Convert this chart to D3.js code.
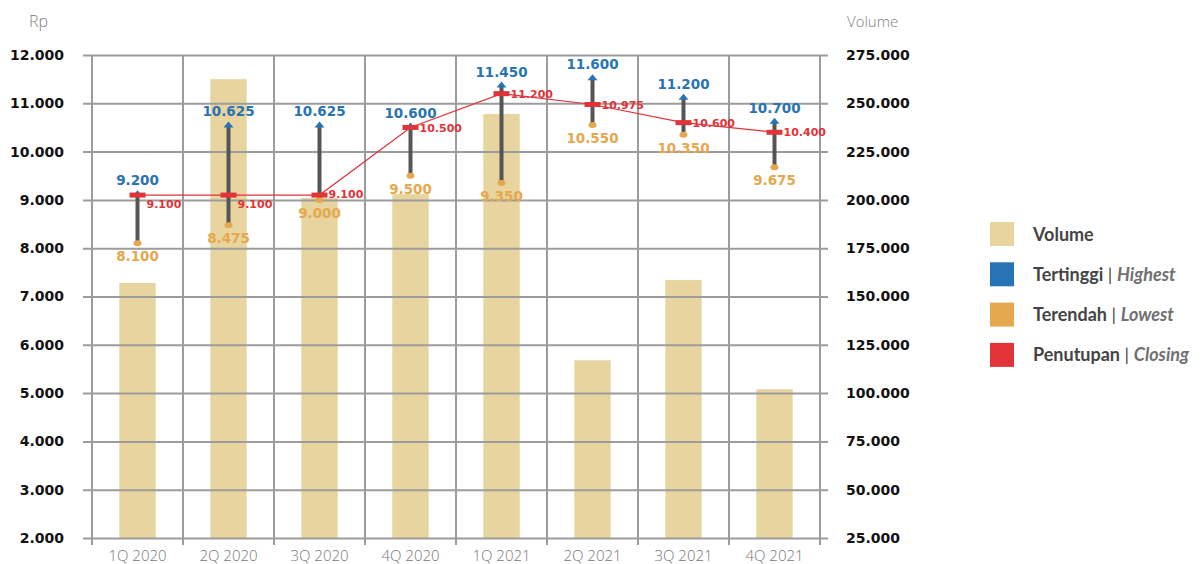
<!DOCTYPE html>
<html>
<head>
<meta charset="utf-8">
<script src="https://cdn.jsdelivr.net/npm/d3@7"></script>
<style>
  html, body { margin: 0; padding: 0; background: #fff; }
  svg { display: block; }
</style>
</head>
<body>
<svg id="chart" width="1202" height="564"></svg>
<script>
// Quarterly share price (Rp) range with trading volume bars.

const quarters = ["1Q 2020", "2Q 2020", "3Q 2020", "4Q 2020", "1Q 2021", "2Q 2021", "3Q 2021", "4Q 2021"];
const volume = [157000, 262500, 201000, 203000, 244500, 117000, 158500, 102000];
const highest = [9200, 10625, 10625, 10600, 11450, 11600, 11200, 10700];
const lowest = [8100, 8475, 9000, 9500, 9350, 10550, 10350, 9675];
const closing = [9100, 9100, 9100, 10500, 11200, 10975, 10600, 10400];

const priceTicks = [2000, 3000, 4000, 5000, 6000, 7000, 8000, 9000, 10000, 11000, 12000];
const volumeTicks = [25000, 50000, 75000, 100000, 125000, 150000, 175000, 200000, 225000, 250000, 275000];

const legendItems = [
  { main: "Volume", sub: null, color: "#e8d49e" },
  { main: "Tertinggi", sub: "Highest", color: "#2873b4" },
  { main: "Terendah", sub: "Lowest", color: "#e5a84e" },
  { main: "Penutupan", sub: "Closing", color: "#e13338" },
];

const COLORS = {
  bar: "#e8d49e",
  grid: "#9c9c9c",
  range: "#555555",
  high: "#2873b4",
  low: "#e5a84e",
  close: "#e13338",
};

const idFmt = d3.formatLocale({ decimal: ",", thousands: ".", grouping: [3], currency: ["Rp", ""] }).format(",d");

const svg = d3.select("#chart");

const plotL = 92, plotR = 820, plotT = 55, plotB = 538;

const x = d3.scaleBand().domain(quarters).range([plotL, plotR]).padding(0);
const y = d3.scaleLinear().domain([2000, 12000]).range([plotB, plotT]);
const yVol = d3.scaleLinear().domain([25000, 275000]).range([plotB, plotT]);

const rows = quarters.map((q, i) => ({
  q, vol: volume[i], hi: highest[i], lo: lowest[i], cl: closing[i], i,
}));

// bars (under grid)
const barW = x.bandwidth() * 0.4;
svg.append("g")
  .selectAll("rect")
  .data(rows)
  .enter()
  .append("rect")
  .attr("x", (d) => x(d.q) + x.bandwidth() / 2 - barW / 2)
  .attr("y", (d) => yVol(d.vol))
  .attr("width", barW)
  .attr("height", (d) => plotB - yVol(d.vol))
  .attr("fill", COLORS.bar);

// horizontal grid + left labels
const gLeft = svg.append("g")
  .attr("transform", `translate(828,0)`)
  .call(d3.axisLeft(y).tickValues(priceTicks).tickSize(745).tickPadding(19).tickFormat(idFmt));
gLeft.select(".domain").remove();
gLeft.selectAll("line").attr("stroke", COLORS.grid).attr("stroke-width", 2);
gLeft.selectAll("text")
  .attr("font-family", "DejaVu Sans")
  .attr("font-weight", "bold")
  .attr("font-size", 14)
  .attr("fill", "#111");

// right labels
const gRight = svg.append("g")
  .attr("transform", `translate(828,0)`)
  .call(d3.axisRight(yVol).tickValues(volumeTicks).tickSize(0).tickPadding(18).tickFormat(idFmt));
gRight.select(".domain").remove();
gRight.selectAll("text")
  .attr("font-family", "DejaVu Sans")
  .attr("font-weight", "bold")
  .attr("font-size", 14)
  .attr("fill", "#111");

// vertical grid at band edges
const edges = quarters.map((q) => x(q)).concat([plotR]);
svg.append("g")
  .selectAll("line")
  .data(edges)
  .enter()
  .append("line")
  .attr("x1", (d) => d)
  .attr("x2", (d) => d)
  .attr("y1", plotT)
  .attr("y2", plotB + 7)
  .attr("stroke", COLORS.grid)
  .attr("stroke-width", 2);

// bottom labels
const gBottom = svg.append("g")
  .attr("transform", `translate(0,${plotB})`)
  .call(d3.axisBottom(x).tickSize(0).tickPadding(12));
gBottom.select(".domain").remove();
gBottom.selectAll("text")
  .attr("font-family", "Open Sans")
  .attr("font-weight", 300)
  .attr("font-size", 15)
  .attr("fill", "#777");

// axis titles
svg.append("text").attr("x", 29).attr("y", 27).text("Rp")
  .attr("font-family", "Open Sans").attr("font-weight", 300).attr("font-size", 16).attr("fill", "#808080");
svg.append("text").attr("x", 847).attr("y", 27).text("Volume")
  .attr("font-family", "Open Sans").attr("font-weight", 300).attr("font-size", 15).attr("fill", "#808080");

// closing line
const cx = (d) => x(d.q) + x.bandwidth() / 2;
svg.append("path")
  .datum(rows)
  .attr("fill", "none")
  .attr("stroke", COLORS.close)
  .attr("stroke-width", 1.2)
  .attr("d", d3.line().x(cx).y((d) => y(d.cl)));

// high-low ranges
const gR = svg.append("g");
gR.selectAll("line")
  .data(rows)
  .enter()
  .append("line")
  .attr("x1", cx).attr("x2", cx)
  .attr("y1", (d) => y(d.lo))
  .attr("y2", (d) => y(d.hi) + 4)
  .attr("stroke", COLORS.range)
  .attr("stroke-width", 4);

// arrowheads at highest
gR.selectAll("path.hi")
  .data(rows)
  .enter()
  .append("path")
  .attr("class", "hi")
  .attr("fill", COLORS.high)
  .attr("d", (d) => {
    const px = cx(d), py = y(d.hi);
    return `M${px - 5},${py + 6}L${px},${py}L${px + 5},${py + 6}Z`;
  });

// dots at lowest
gR.selectAll("ellipse")
  .data(rows)
  .enter()
  .append("ellipse")
  .attr("cx", cx)
  .attr("cy", (d) => y(d.lo))
  .attr("rx", 4)
  .attr("ry", 3)
  .attr("fill", COLORS.low);

// closing markers
gR.selectAll("rect")
  .data(rows)
  .enter()
  .append("rect")
  .attr("x", (d) => cx(d) - 8)
  .attr("y", (d) => y(d.cl) - 2.5)
  .attr("width", 16)
  .attr("height", 5)
  .attr("fill", COLORS.close);

// labels
const labelFont = (sel, size, color) => sel
  .attr("font-family", "DejaVu Sans")
  .attr("font-weight", "bold")
  .attr("font-size", size)
  .attr("fill", color);

gR.selectAll("text.hi")
  .data(rows)
  .enter()
  .append("text")
  .attr("class", "hi")
  .attr("x", cx)
  .attr("y", (d) => y(d.hi) - 5)
  .attr("text-anchor", "middle")
  .text((d) => idFmt(d.hi))
  .call(labelFont, 13.5, COLORS.high);

gR.selectAll("text.lo")
  .data(rows)
  .enter()
  .append("text")
  .attr("class", "lo")
  .attr("x", cx)
  .attr("y", (d) => y(d.lo) + 18)
  .attr("text-anchor", "middle")
  .text((d) => idFmt(d.lo))
  .call(labelFont, 13.5, COLORS.low);

// first two closing labels sit below the marker, the rest beside it
const closeDy = [13, 13, 3, 5, 4, 4, 4, 4];
gR.selectAll("text.cl")
  .data(rows)
  .enter()
  .append("text")
  .attr("class", "cl")
  .attr("x", (d) => cx(d) + 9)
  .attr("y", (d) => y(d.cl) + closeDy[d.i])
  .text((d) => idFmt(d.cl))
  .call(labelFont, 11, COLORS.close);

// legend
const gL = svg.append("g").attr("transform", "translate(990,222)");
const item = gL.selectAll("g")
  .data(legendItems)
  .enter()
  .append("g")
  .attr("transform", (d, i) => `translate(0,${i * 40.3})`);
item.append("rect").attr("width", 24).attr("height", 24).attr("fill", (d) => d.color);
const lt = item.append("text")
  .attr("x", 43)
  .attr("y", 18.5)
  .attr("font-family", "Lato")
  .attr("font-size", 18)
  .attr("fill", "#444");
lt.append("tspan").attr("font-weight", "bold").text((d) => d.main);
lt.filter((d) => d.sub)
  .append("tspan").attr("font-weight", "normal").attr("fill", "#444").text(" | ");
lt.filter((d) => d.sub)
  .append("tspan").attr("font-weight", "bold").attr("font-style", "italic").attr("fill", "#707070")
  .text((d) => d.sub);
</script>
</body>
</html>
